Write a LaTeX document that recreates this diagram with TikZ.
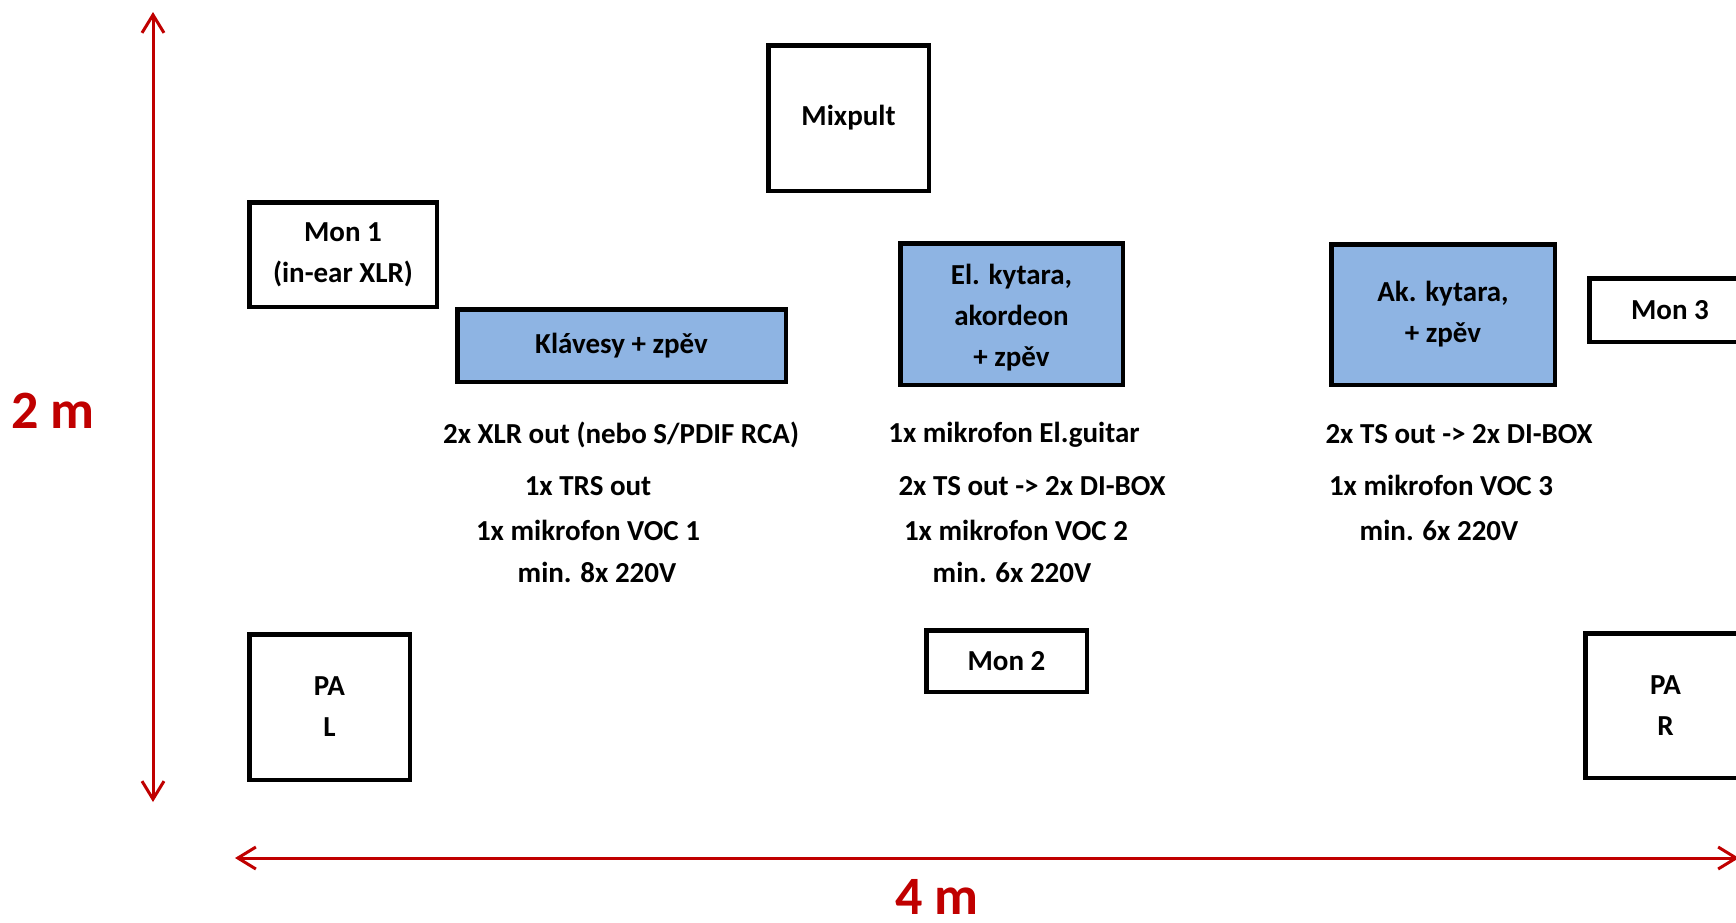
\documentclass[tikz,border=0pt]{standalone}
\usepackage{fontspec}
\setmainfont{Carlito}
\usetikzlibrary{arrows.meta}
\definecolor{boxblue}{HTML}{8EB4E3}
\definecolor{dimred}{HTML}{C00000}
\tikzset{
  stagebox/.style={draw=black, line width=4.5pt, line join=miter, inner sep=0pt,
    align=center, font=\bfseries\fontsize{29}{41}\selectfont},
  bluebox/.style={stagebox, fill=boxblue},
  info/.style={inner sep=0pt, align=center, font=\bfseries\fontsize{29}{41}\selectfont, anchor=center},
  dimarrow/.style={draw=dimred, line width=3pt,
    {Straight Barb[length=18pt,width=22pt]}-{Straight Barb[length=18pt,width=22pt]}},
  dimlabel/.style={text=dimred, inner sep=0pt, font=\bfseries\fontsize{54}{60}\selectfont}
}
\begin{document}
\begin{tikzpicture}[x=1pt,y=-1pt]
\useasboundingbox (0,0) rectangle (1736,922);
\clip (0,0) rectangle (1736,922);
\fill[white] (0,0) rectangle (1736,922);

% boxes
\node[stagebox, minimum width=160.5pt, minimum height=145.5pt] (mix) at (848.5,118) {Mixpult};
\node[stagebox, minimum width=187.5pt, minimum height=104.5pt] (mon1) at (343,254.5) {Mon 1\\(in-ear XLR)};
\node[bluebox, minimum width=328.5pt, minimum height=72.5pt] (klav) at (621.5,345.5) {Klávesy + zpěv};
\node[bluebox, minimum width=222.5pt, minimum height=141.5pt] (el) at (1011.5,314) {};
\node[info] (elt) at (1011.5,317.5) {El. kytara,\\akordeon\\+ zpěv};
\node[bluebox, minimum width=223.5pt, minimum height=140.5pt] (ak) at (1443,314.5) {Ak. kytara,\\+ zpěv};
\node[stagebox, minimum width=161.5pt, minimum height=63.5pt] (mon3) at (1670,310) {Mon 3};
\node[stagebox, minimum width=160.5pt, minimum height=61.5pt] (mon2) at (1006.5,661) {Mon 2};
\node[stagebox, minimum width=160.5pt, minimum height=145.5pt] (pal) at (329.5,707) {PA\\L};
\node[stagebox, minimum width=160.5pt, minimum height=144.5pt] (par) at (1665.5,705.5) {PA\\R};

% info texts
\node[info] (k1) at (621,435) {2x XLR out (nebo S/PDIF RCA)};
\node[info] (k2) at (588,486) {1x TRS out};
\node[info] (k3) at (588,530) {1x mikrofon VOC 1};
\node[info] (k4) at (597,572) {min. 8x 220V};

\node[info] (e1) at (1014,435) {1x mikrofon El.guitar};
\node[info] (e2) at (1032,486) {2x TS out -> 2x DI-BOX};
\node[info] (e3) at (1016,530) {1x mikrofon VOC 2};
\node[info] (e4) at (1012,572) {min. 6x 220V};

\node[info] (a1) at (1459,434) {2x TS out -> 2x DI-BOX};
\node[info] (a2) at (1441,485) {1x mikrofon VOC 3};
\node[info] (a3) at (1439,530) {min. 6x 220V};

% dimensions
\coordinate (vtop) at (153,12);
\coordinate (vbot) at (153,802);
\coordinate (hl) at (235,858);
\coordinate (hr) at (1739,858);
\draw[dimarrow] (vbot) -- (vtop);
\draw[dimarrow] (hl) -- (hr);
\node[dimlabel] (two) at (53,411) {2 m};
\node[dimlabel] (four) at (937,897) {4 m};
\end{tikzpicture}
\end{document}
